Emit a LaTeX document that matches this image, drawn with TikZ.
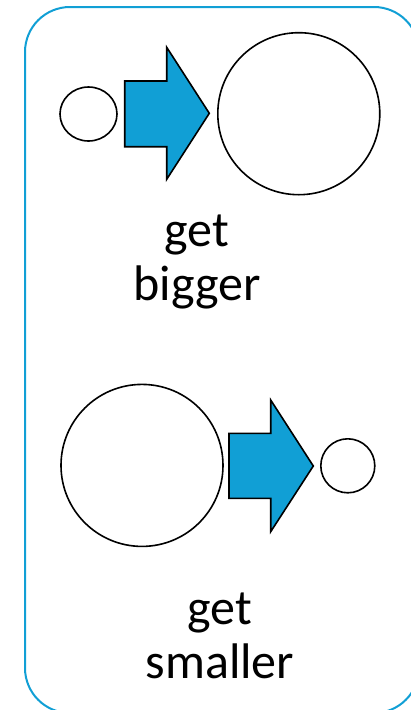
\documentclass[tikz,border=0pt]{standalone}
\usepackage{fontspec}
\setmainfont{Carlito}
\usepackage{xcolor}
\usetikzlibrary{positioning,shapes.geometric}
\definecolor{frameblue}{RGB}{17,159,213}

\begin{document}
\begin{tikzpicture}[
x=1pt,y=-1pt,
ball/.style={
draw,
line width=1.6pt,
fill=white,
inner sep=0pt
},
blockarrow/.style={draw,line width=1.6pt,fill=frameblue,line join=miter},
caption/.style={align=center,inner sep=0pt,font=\fontsize{50}{54}\selectfont}
]
\useasboundingbox (0,0) rectangle (411,710);

\draw[frameblue,line width=2pt,rounded corners=45pt] (25,7) rectangle (419,713);

% get bigger
\node[ball,ellipse,minimum width=57pt,minimum height=54pt] (smallA) at (88.5,114) {};
\node[ball,circle,minimum size=162pt] (bigA) at (298.8,113.7) {};
\draw[blockarrow] (124.7,81) -- (166.7,81) -- (166.7,47.3) -- (209.3,113.3)
-- (166.7,179.3) -- (166.7,146.7) -- (124.7,146.7) -- cycle;
\node[caption,anchor=base] (bigger) at (197,300.5) {get\\bigger};

% get smaller
\node[ball,circle,minimum size=162pt] (bigB) at (142,465.4) {};
\node[ball,circle,minimum size=54pt] (smallB) at (347.8,465.8) {};
\draw[blockarrow] (229,433.3) -- (270.7,433.3) -- (270.7,400) -- (313.3,466)
-- (270.7,531.7) -- (270.7,498.3) -- (229,498.3) -- cycle;
\node[caption,anchor=base] (smaller) at (220,678.5) {get\\smaller};

\end{tikzpicture}
\end{document}
